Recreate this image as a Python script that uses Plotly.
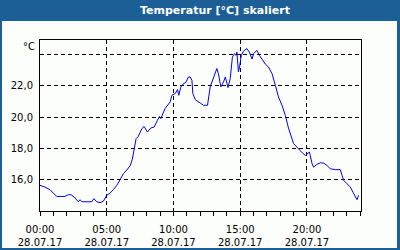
import plotly.graph_objects as go
from datetime import datetime, timedelta

# minutes after midnight, 28.07.2017
minutes = [0, 22, 45, 68, 75, 112, 127, 140, 154, 172, 180, 188, 233, 242, 255, 270, 285,
           300, 315, 330, 345, 360, 375, 390, 405, 415, 424, 432, 442, 458, 468, 483, 498,
           513, 528, 537, 543, 562, 585, 593, 608, 618, 624, 633, 642, 657, 667, 675, 683,
           687, 698, 717, 720, 735, 753, 765, 780, 795, 802, 813, 825, 833, 845, 855, 865,
           874, 881, 885, 892, 897, 905, 915, 930, 941, 953, 960, 975, 986, 998, 1013, 1027,
           1043, 1058, 1072, 1088, 1103, 1117, 1133, 1140, 1155, 1167, 1180, 1193, 1203,
           1211, 1215, 1223, 1230, 1245, 1260, 1275, 1290, 1305, 1328, 1350, 1358, 1365,
           1380, 1395, 1407, 1418, 1425, 1432]
temps = [15.64, 15.53, 15.36, 15.04, 14.93, 14.93, 15.04, 15.04, 14.89, 14.59, 14.72, 14.59,
         14.59, 14.79, 14.59, 14.53, 14.63, 15.0, 15.15, 15.36, 15.64, 16.0, 16.38, 16.62,
         16.88, 17.3, 18.08, 18.62, 18.77, 19.26, 19.4, 19.04, 19.3, 19.36, 19.79, 20.04,
         19.9, 20.54, 20.96, 21.39, 21.5, 21.75, 21.39, 21.92, 22.09, 22.24, 22.56, 22.56,
         22.35, 21.5, 21.11, 20.96, 20.9, 20.75, 20.75, 21.92, 22.56, 23.1, 22.77, 21.92,
         22.24, 22.56, 21.88, 22.45, 23.83, 24.05, 23.94, 24.15, 22.88, 23.2, 23.94, 24.22,
         24.37, 24.15, 23.7, 24.05, 24.26, 23.94, 23.7, 23.38, 23.2, 22.77, 22.03, 21.28,
         20.75, 20.1, 19.3, 18.62, 18.3, 18.08, 17.87, 17.7, 17.55, 17.66, 17.76, 17.55,
         17.02, 16.8, 16.98, 17.08, 17.06, 16.91, 16.7, 16.64, 16.64, 16.27, 15.96, 15.74,
         15.53, 15.2, 14.89, 14.72, 15.0]

y_tick_vals = [16, 18, 20, 22, 24]
y_tick_text = ["16,0", "18,0", "20,0", "22,0", ""]
title_text = "Temperatur [°C] skaliert"
unit_text = "°C"

base = datetime(2017, 7, 28)
times = [base + timedelta(minutes=m) for m in minutes]

W, H = 400, 250
L, R, T, B = 40, 39, 40, 39
pw, ph = W - L - R, H - T - B
def px(x):
    return (x - L) / pw
def py(y):
    return (H - B - y) / ph

BLUE = "#1b5f96"
FONT = "DejaVu Sans"

fig = go.Figure()
fig.add_trace(go.Scatter(x=times, y=temps, mode="lines",
                         line=dict(color="#0000ee", width=1), showlegend=False,
                         hoverinfo="skip"))

fig.update_layout(
    width=W, height=H,
    margin=dict(l=L, r=R, t=T, b=B, pad=0, autoexpand=False),
    paper_bgcolor=BLUE,
    plot_bgcolor="white",
    font=dict(family=FONT, size=10, color="#000000"),
    shapes=[
        dict(type="rect", xref="paper", yref="paper", layer="below",
             x0=px(2), x1=px(397), y0=py(248), y1=py(21),
             fillcolor="#fcfefc", line=dict(width=0)),
    ],
    annotations=[
        dict(text="<b>" + title_text + "</b>", xref="paper", yref="paper",
             x=px(215), y=py(10.5), xanchor="center", yanchor="middle",
             showarrow=False, font=dict(family=FONT, size=11, color="white")),
        dict(text=unit_text, xref="paper", yref="paper",
             x=px(37), y=py(46), xanchor="right", yanchor="middle",
             showarrow=False, font=dict(family=FONT, size=10, color="black")),
    ],
)

fig.update_xaxes(
    type="date", automargin=False,
    range=[base, base + timedelta(minutes=1443)],
    dtick=5 * 3600000, tick0=base,
    tickformat="%H:%M<br>%d.%m.%y",
    ticks="outside", ticklen=4, tickcolor="black", tickwidth=1,
    ticklabelstandoff=5,
    showgrid=True, gridcolor="black", gridwidth=1, griddash="4px,3px",
    showline=True, linecolor="black", linewidth=1, mirror=True,
    zeroline=False,
    minor=dict(dtick=3600000, tick0=base, ticks="outside", ticklen=4,
               tickcolor="black", showgrid=False),
    tickfont=dict(family=FONT, size=10, color="black"),
    fixedrange=True,
)
fig.update_yaxes(
    automargin=False,
    range=[14.0, 24.92],
    tickvals=y_tick_vals, ticktext=y_tick_text,
    ticks="", showgrid=True, gridcolor="black", gridwidth=1, griddash="4px,3px",
    showline=True, linecolor="black", linewidth=1, mirror=True,
    zeroline=False, ticklabelstandoff=4,
    tickfont=dict(family=FONT, size=10, color="black"),
    fixedrange=True,
)

fig.write_html("out.html", config={"displayModeBar": False})
